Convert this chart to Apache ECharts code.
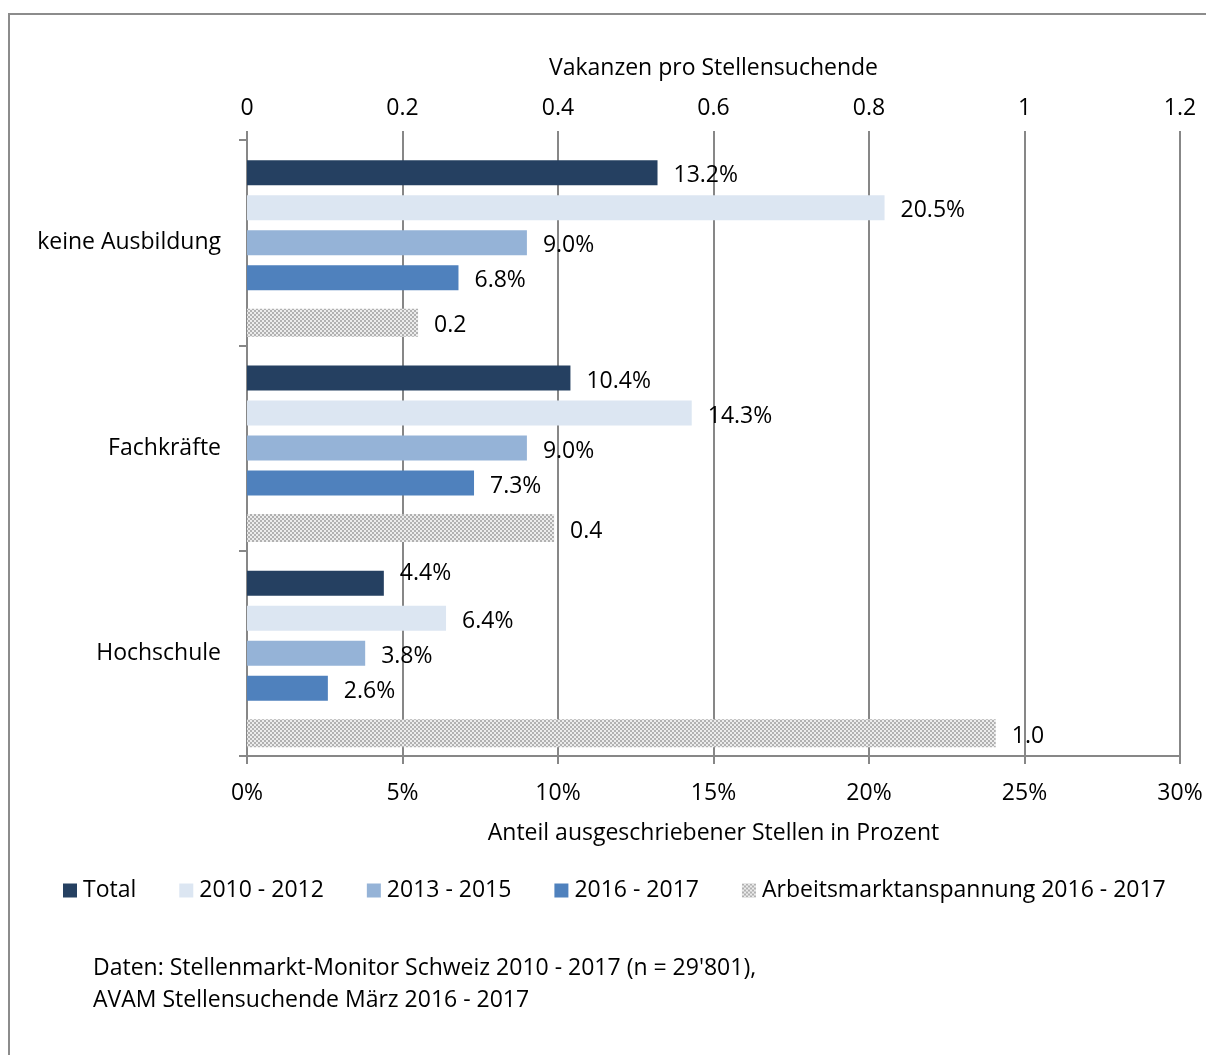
<!DOCTYPE html>
<html>
<head>
<meta charset="utf-8">
<script src="https://cdn.jsdelivr.net/npm/echarts@6/dist/echarts.min.js"></script>
<style>
  html, body { margin: 0; padding: 0; background: #fff; }
  #chart { width: 1206px; height: 1055px; }
</style>
</head>
<body>
<div id="chart"></div>
<script>
// categories (top to bottom)
var categories = ['keine Ausbildung', 'Fachkräfte', 'Hochschule'];

// Anteil ausgeschriebener Stellen in Prozent
var total    = [13.2, 10.4, 4.4];
var y2010_12 = [20.5, 14.3, 6.4];
var y2013_15 = [9.0, 9.0, 3.8];
var y2016_17 = [6.8, 7.3, 2.6];

// Vakanzen pro Stellensuchende
var tension = [0.22, 0.395, 0.963];

var pctTicks = [0, 5, 10, 15, 20, 25, 30];
var ratioTicks = [0, 0.2, 0.4, 0.6, 0.8, 1, 1.2];

var FONT = 'Open Sans';
var FS = 23;
var GRID_COLOR = '#878787';

// checkered fill for the tension bars
function makePattern() {
    var c = document.createElement('canvas');
    c.width = 4; c.height = 4;
    var ctx = c.getContext('2d');
    ctx.fillStyle = '#ececec';
    ctx.fillRect(0, 0, 4, 4);
    ctx.fillStyle = '#b1b1b1';
    ctx.fillRect(0, 0, 2, 2);
    ctx.fillRect(2, 2, 2, 2);
    return c;
}
var pattern = { image: makePattern(), repeat: 'repeat' };

var pctLabel = {
    show: true, position: 'right', distance: 16, offset: [0, 3],
    color: '#000', fontFamily: FONT, fontSize: FS,
    formatter: function (p) { return p.value.toFixed(1) + '%'; }
};

function pctSeries(name, values, color) {
    return {
        name: name, type: 'bar', xAxisIndex: 0, yAxisIndex: 0,
        barWidth: 25, barGap: '40%',
        itemStyle: { color: color },
        label: pctLabel,
        data: values.map(function (v, i) {
            // Excel put the Hochschule total label a bit higher
            if (name === 'Total' && i === 2) return { value: v, label: { offset: [0, -10] } };
            return v;
        }),
        z: 3
    };
}

var series = [
    pctSeries('Total', total, '#254061'),
    pctSeries('2010 - 2012', y2010_12, '#dce6f2'),
    pctSeries('2013 - 2015', y2013_15, '#95b3d7'),
    pctSeries('2016 - 2017', y2016_17, '#4f81bd'),
    // empty slot so the four bars sit in the upper part of each band
    { name: '_slot1', type: 'bar', xAxisIndex: 0, yAxisIndex: 0, barWidth: 25, barGap: '40%', data: ['-', '-', '-'] },
    { name: '_slot2', type: 'bar', xAxisIndex: 1, yAxisIndex: 1, barWidth: 28, barGap: '471.4%', data: ['-', '-', '-'] },
    {
        name: 'Arbeitsmarktanspannung 2016 - 2017', type: 'bar', xAxisIndex: 1, yAxisIndex: 1,
        barWidth: 28, barGap: '471.4%',
        itemStyle: { color: pattern },
        label: {
            show: true, position: 'right', distance: 16, offset: [0, 3],
            color: '#000', fontFamily: FONT, fontSize: FS,
            formatter: function (p) { return p.value.toFixed(1); }
        },
        data: tension,
        z: 3
    }
];

var chart = echarts.init(document.getElementById('chart'), null, { renderer: 'canvas' });

chart.setOption({
    backgroundColor: '#fff',
    animation: false,
    textStyle: { fontFamily: FONT, color: '#000' },
    grid: { left: 247, right: 26, top: 140, bottom: 299 },
    legend: {
        data: ['Total', '2010 - 2012', '2013 - 2015', '2016 - 2017', 'Arbeitsmarktanspannung 2016 - 2017'],
        left: 58, top: 874,
        icon: 'rect', itemWidth: 14, itemHeight: 14, itemGap: 43,
        textStyle: { fontFamily: FONT, fontSize: FS, color: '#000', padding: [0, 0, 0, 1] }
    },
    xAxis: [
        {
            type: 'value', position: 'bottom', min: 0, max: 30, interval: 5,
            name: 'Anteil ausgeschriebener Stellen in Prozent',
            nameLocation: 'middle', nameGap: 66,
            nameTextStyle: { fontFamily: FONT, fontSize: FS, color: '#000' },
            axisLine: { show: true, lineStyle: { color: GRID_COLOR, width: 2 } },
            axisTick: { show: true, length: 8, lineStyle: { color: GRID_COLOR, width: 2 } },
            axisLabel: {
                margin: 26, fontFamily: FONT, fontSize: FS, color: '#000',
                formatter: function (v) { return pctTicks.indexOf(v) >= 0 ? v + '%' : ''; }
            },
            splitLine: { show: true, lineStyle: { color: GRID_COLOR, width: 2 } }
        },
        {
            type: 'value', position: 'top', min: 0, max: 1.2, interval: 0.2,
            name: 'Vakanzen pro Stellensuchende',
            nameLocation: 'middle', nameGap: 60,
            nameTextStyle: { fontFamily: FONT, fontSize: FS, color: '#000' },
            axisLine: { show: false },
            axisTick: { show: true, length: 9, lineStyle: { color: GRID_COLOR, width: 2 } },
            axisLabel: {
                margin: 20, fontFamily: FONT, fontSize: FS, color: '#000',
                formatter: function (v) {
                    var r = Math.round(v * 10) / 10;
                    return ratioTicks.indexOf(r) >= 0 ? String(r) : '';
                }
            },
            splitLine: { show: false }
        }
    ],
    yAxis: [
        {
            type: 'category', data: categories, inverse: true, position: 'left',
            axisLine: { show: true, lineStyle: { color: GRID_COLOR, width: 2 } },
            axisTick: { show: true, length: 8, lineStyle: { color: GRID_COLOR, width: 2 } },
            axisLabel: { margin: 26, fontFamily: FONT, fontSize: FS, color: '#000' }
        },
        {
            type: 'category', data: categories, inverse: true, position: 'right', show: false
        }
    ],
    series: series,
    graphic: [
        {
            type: 'rect', z: -10, silent: true,
            shape: { x: 9, y: 14, width: 1300, height: 1200 },
            style: { fill: 'none', stroke: '#8c8c8c', lineWidth: 2 }
        },
        {
            type: 'text', left: 93, top: 952,
            style: {
                text: "Daten: Stellenmarkt-Monitor Schweiz 2010 - 2017 (n = 29'801),\nAVAM Stellensuchende März 2016 - 2017",
                font: FS + 'px "' + FONT + '"', fill: '#000', lineHeight: 32
            }
        }
    ]
});
</script>
</body>
</html>
